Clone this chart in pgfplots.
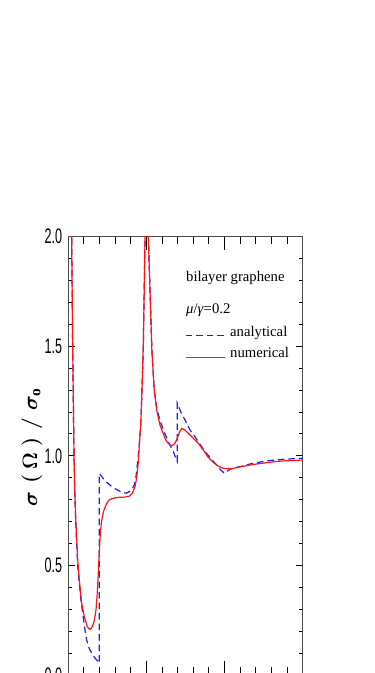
\documentclass[border=0pt]{standalone}
\usepackage{fontspec}
\setmainfont{Liberation Serif}
\newfontfamily\ticksf{Liberation Sans}
\usepackage{graphicx}
\usepackage{pgfplots}
\pgfplotsset{compat=1.18}
\definecolor{anblue}{RGB}{30,30,240}
\definecolor{nured}{RGB}{255,20,20}
\begin{document}
\begin{tikzpicture}
\useasboundingbox (0,0) rectangle (375pt,673pt);
\begin{axis}[
  at={(68.3pt,-2.3pt)}, anchor=south west,
  scale only axis, width=234.4pt, height=438.9pt,
  xmin=0, xmax=3, ymin=0, ymax=2,
  xtick={0,1,2,3}, minor x tick num=4, xticklabels={},
  ytick={0,0.5,1,1.5,2}, minor y tick num=4,
  tick align=inside, tick pos=both,
  major tick length=7pt, minor tick length=4pt,
  x tick style={/pgfplots/major tick length=14pt,/pgfplots/minor tick length=8pt},
  axis line style={black!70, line width=1.3pt},
  tick style={black, line width=0.9pt},
  /pgf/number format/assume math mode=true,
  yticklabel={\scalebox{0.6}[1]{\pgfmathprintnumber[fixed,fixed zerofill,precision=1]{\tick}}},
  yticklabel style={font=\ticksf\fontsize{21}{21}\selectfont, inner sep=0pt, xshift=-6pt},
  ylabel={$\sigma\mkern6mu(\mkern4mu\Omega\mkern4mu)\mkern6mu/\mkern6mu\sigma_{\mathrm{o}}$},
  ylabel style={font=\boldmath\fontsize{22}{22}\selectfont, at={(rel axis cs:-0.155,0.52)}, anchor=center},
]
\addplot[anblue, line width=1.2pt, dash pattern=on 6.5pt off 4pt] coordinates {
(0.02,4.0) (0.035,2.6) (0.043,2.0) (0.056,1.5) (0.073,1.0) (0.085,0.80) (0.099,0.66)
(0.12,0.50) (0.141,0.42) (0.16,0.35) (0.184,0.283) (0.21,0.215) (0.235,0.161) (0.27,0.12)
(0.312,0.093) (0.35,0.075) (0.384,0.062) (0.397,0.055) (0.397,0.92)
(0.44,0.90) (0.483,0.882) (0.55,0.862) (0.611,0.848) (0.696,0.832) (0.74,0.830)
(0.781,0.837) (0.82,0.852) (0.845,0.867) (0.865,0.90) (0.88,0.95) (0.896,1.0)
(0.915,1.08) (0.93,1.163) (0.947,1.34) (0.96,1.5) (0.969,1.70) (0.976,1.85) (0.982,2.0)
(0.995,2.6) (1.005,2.6) (1.018,2.2) (1.024,2.0) (1.04,1.82) (1.055,1.65) (1.07,1.48)
(1.088,1.37) (1.1,1.30) (1.131,1.22) (1.174,1.16) (1.238,1.10) (1.30,1.05) (1.344,1.02)
(1.37,0.995) (1.395,0.975) (1.395,1.24)
(1.44,1.20) (1.494,1.163) (1.558,1.118) (1.622,1.087) (1.70,1.045) (1.75,1.019)
(1.82,0.99) (1.899,0.958) (1.95,0.936) (2.0,0.92) (2.035,0.93) (2.07,0.939)
(2.155,0.948) (2.25,0.955) (2.326,0.963) (2.43,0.970) (2.539,0.977) (2.65,0.981)
(2.752,0.984) (2.88,0.987) (3.0,0.989)
};
\addplot[nured, line width=1.2pt] coordinates {
(0.02,4.0) (0.035,2.6) (0.043,2.0) (0.056,1.5) (0.073,1.0) (0.085,0.82) (0.099,0.68)
(0.12,0.53) (0.141,0.434) (0.17,0.33) (0.205,0.267) (0.24,0.225) (0.26,0.213) (0.278,0.21)
(0.295,0.215) (0.31,0.225) (0.325,0.24) (0.335,0.255) (0.345,0.275) (0.355,0.30)
(0.37,0.37) (0.384,0.465) (0.398,0.57) (0.41,0.647) (0.422,0.69) (0.435,0.72)
(0.448,0.742) (0.461,0.757) (0.49,0.782) (0.525,0.799) (0.56,0.805) (0.6,0.809)
(0.653,0.811) (0.72,0.812) (0.781,0.816) (0.82,0.83) (0.854,0.86) (0.875,0.90)
(0.896,0.97) (0.915,1.08) (0.93,1.163) (0.947,1.34) (0.96,1.5) (0.969,1.70) (0.976,1.85)
(0.982,2.0) (0.995,2.6) (1.005,2.6) (1.018,2.2) (1.024,2.0) (1.04,1.82) (1.055,1.65)
(1.07,1.48) (1.088,1.37) (1.1,1.30) (1.131,1.209) (1.174,1.14) (1.238,1.08)
(1.27,1.06) (1.302,1.049) (1.331,1.047) (1.36,1.055) (1.387,1.072) (1.42,1.105)
(1.451,1.125) (1.49,1.118) (1.536,1.103) (1.6,1.08) (1.664,1.057) (1.73,1.025)
(1.792,0.993) (1.856,0.97) (1.92,0.953) (1.984,0.943) (2.05,0.941) (2.112,0.943)
(2.2,0.95) (2.326,0.958) (2.43,0.964) (2.539,0.969) (2.65,0.974) (2.752,0.977)
(2.88,0.979) (3.0,0.981)
};
\node[anchor=base west, inner sep=0pt, font=\fontsize{14.7}{14.7}\selectfont] at (axis cs:1.506,1.794) {bilayer graphene};
\node[anchor=base west, inner sep=0pt, font=\fontsize{14.7}{14.7}\selectfont] at (axis cs:1.506,1.650) {\textit{μ}/\textit{γ}=0.2};
% legend samples
\fill[anblue] (axis cs:1.5026,1.5448) rectangle (axis cs:1.5858,1.5520);
\fill[anblue] (axis cs:1.6370,1.5448) rectangle (axis cs:1.7202,1.5520);
\fill[anblue] (axis cs:1.7713,1.5448) rectangle (axis cs:1.8545,1.5520);
\fill[anblue] (axis cs:1.9057,1.5448) rectangle (axis cs:1.9889,1.5520);
\node[anchor=base west, inner sep=0pt, font=\fontsize{14.7}{14.7}\selectfont] at (axis cs:2.0696,1.5461) {analytical};
\fill[nured] (axis cs:1.5026,1.4446) rectangle (axis cs:2.0056,1.4518);
\node[anchor=base west, inner sep=0pt, font=\fontsize{14.7}{14.7}\selectfont] at (axis cs:2.0696,1.4459) {numerical};
\end{axis}
\end{tikzpicture}
\end{document}
